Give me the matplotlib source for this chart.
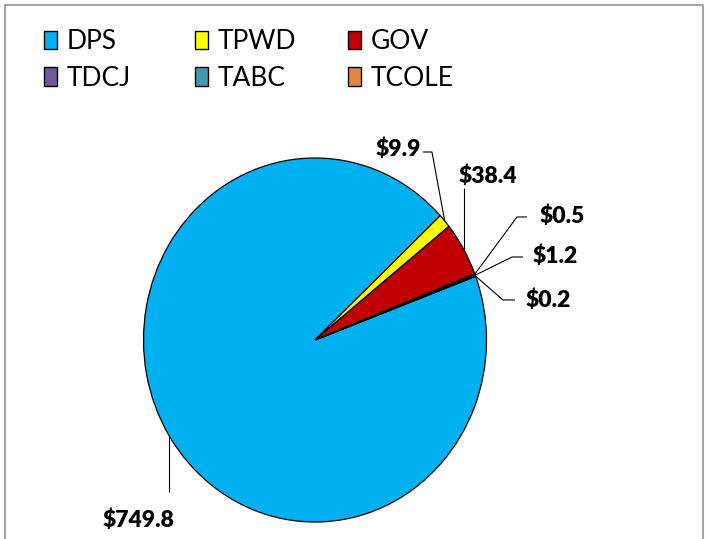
import numpy as np
import matplotlib
matplotlib.use("Agg")
import matplotlib.pyplot as plt
from matplotlib.patches import Patch, Rectangle

plt.rcParams['font.family'] = ['Lato', 'DejaVu Sans']

agencies = ["DPS", "TPWD", "GOV", "TDCJ", "TABC", "TCOLE"]
amounts = [749.8, 9.9, 38.4, 0.5, 1.2, 0.2]
colors = ["#00B0F0", "#FFFF00", "#C00000", "#70589A", "#4199AF", "#E0883F"]

# label layout: text position, alignment, leader elbow points (data units, r=1)
label_pos = [(-1.03, -0.99), (0.62, 1.05), (1.01, 0.90), (1.31, 0.68), (1.27, 0.46), (1.23, 0.22)]
label_ha = ["center", "right", "center", "left", "left", "left"]
leader_pts = [
    [(None, -0.835)],
    [(0.682, 1.033), (0.630, 1.033)],
    [(None, 0.835)],
    [(1.178, 0.676), (1.236, 0.676)],
    [(1.149, 0.456), (1.213, 0.456)],
    [(1.096, 0.220), (1.166, 0.220)],
]

W, H = 708, 539
cx, cy = 315, 340       # pie centre in pixels (from top)
rx, ry = 171.5, 182     # slightly stretched pie

fig = plt.figure(figsize=(W / 100, H / 100), dpi=100)
ax = fig.add_axes([0, 0, 1, 1])

wedges, _ = ax.pie(amounts, colors=colors, startangle=20.5, counterclock=False,
                   wedgeprops=dict(edgecolor="black", linewidth=0.9))
ax.set_aspect("auto")
ax.set_xlim(-cx / rx, (W - cx) / rx)
ax.set_ylim(-(H - cy) / ry, cy / ry)
ax.axis("off")

for w, v, pos, ha, pts in zip(wedges, amounts, label_pos, label_ha, leader_pts):
    mid = np.deg2rad((w.theta1 + w.theta2) / 2)
    ax_, ay_ = np.cos(mid), np.sin(mid)
    xs, ys = [ax_], [ay_]
    for px, py in pts:
        xs.append(ax_ if px is None else px)
        ys.append(py)
    ax.plot(xs, ys, color="black", lw=0.8, solid_capstyle="butt")
    ax.text(pos[0], pos[1], f"${v:.1f}", ha=ha, va="center", family="Lato",
            fontsize=16.5, fontweight="heavy", color="black")

# legend: 3 columns x 2 rows, one small legend per column so spacing is even
col_x = [44, 195, 348]
for c in range(3):
    idx = [c, c + 3]
    handles = [Patch(facecolor=colors[i], edgecolor="black", linewidth=1.0) for i in idx]
    leg = fig.legend(handles, [agencies[i] for i in idx], ncol=1, frameon=False,
                     loc="upper left", bbox_to_anchor=(col_x[c] / W, 1 - 29 / H),
                     fontsize=19, handlelength=0.5, handleheight=0.7, handletextpad=0.35,
                     labelspacing=0.45, borderpad=0, borderaxespad=0)

# chart area border
fig.patches.append(Rectangle((5 / W, -0.01), 698 / W, 1 - 5 / H + 0.01, transform=fig.transFigure,
                             fill=False, edgecolor="#A6A6A6", linewidth=1.5))

fig.savefig("out.png", dpi=100)
